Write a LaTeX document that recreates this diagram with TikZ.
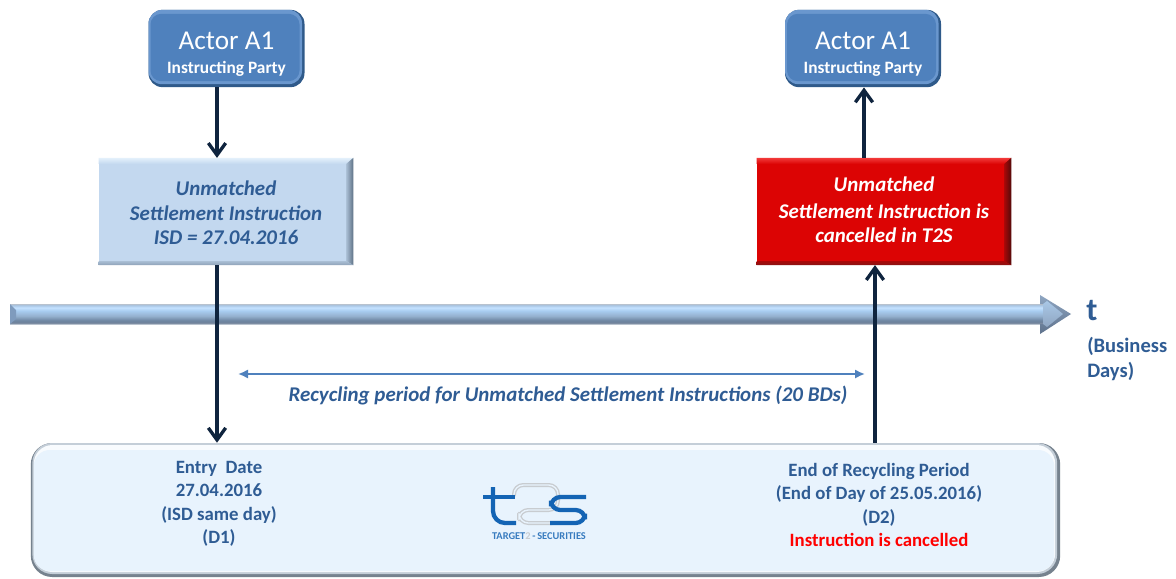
\documentclass[tikz,border=0pt]{standalone}
\usepackage{fontspec}
\setmainfont{Carlito}
\usetikzlibrary{calc,arrows.meta}
\definecolor{actorblue}{HTML}{4F81BD}
\definecolor{actortop}{HTML}{6A97CE}
\definecolor{actordark}{HTML}{2F5A8A}
\definecolor{lightbox}{HTML}{C3D8EF}
\definecolor{redbox}{HTML}{DC0404}
\definecolor{textblue}{HTML}{2F5C94}
\definecolor{navyline}{HTML}{0F243E}
\definecolor{arrowblue}{HTML}{4F81BD}
\definecolor{panel}{HTML}{E8F3FD}
\definecolor{panelrim}{HTML}{76828E}
\definecolor{panelsoft}{HTML}{C4CED8}
\definecolor{logoblue}{HTML}{1464B4}
\definecolor{logogray}{HTML}{C8CCD0}
\definecolor{lbTop}{HTML}{E4F0FB}
\definecolor{lbEdge}{HTML}{5F7286}
\definecolor{lbIn}{HTML}{A9BED4}
\definecolor{lbBot}{HTML}{8FA3B8}
\definecolor{rTop}{HTML}{F23A3A}
\definecolor{rEdge}{HTML}{520A0A}
\definecolor{rIn}{HTML}{A80808}
\definecolor{rBot}{HTML}{8A1414}
\definecolor{headLit}{HTML}{A9C7E6}
\definecolor{headTop}{HTML}{8FA6C2}
\definecolor{headBot}{HTML}{5E728C}
\definecolor{barEnd}{HTML}{7F9BBD}
\definecolor{barA}{HTML}{B8C2CE}
\definecolor{barB}{HTML}{70829A}
\definecolor{barC}{HTML}{6E86A2}
\definecolor{barD}{HTML}{94B0CE}
\definecolor{barE}{HTML}{A8CCF0}
\definecolor{barF}{HTML}{C4E2FF}
\definecolor{barG}{HTML}{A8C4E2}
\pgfdeclareverticalshading{barshade}{100bp}{
 color(0bp)=(barA);
 color(25bp)=(barA);
 color(28bp)=(barB);
 color(34bp)=(barC);
 color(45bp)=(barD);
 color(58bp)=(barE);
 color(66bp)=(barF);
 color(72bp)=(barG);
 color(75bp)=(barA);
 color(100bp)=(barA)}
\tikzset{
 x=0.75pt,y=-0.75pt,
 actorbox/.style={rounded corners=10.5pt,inner sep=0pt,minimum width=117pt,minimum height=58pt,
   fill=actordark,text=white,align=center,
   path picture={
    \fill[actortop,rounded corners=10pt]
     ($(path picture bounding box.south west)+(0,-3)$) rectangle ($(path picture bounding box.north east)+(-2.5,0)$);
    \fill[actorblue,rounded corners=8pt]
     ($(path picture bounding box.south west)+(2,-6)$) rectangle ($(path picture bounding box.north east)+(-5,4)$);}},
 instrbox/.style={inner sep=0pt,minimum width=190.5pt,minimum height=80pt,align=center,
   font=\fontsize{15.7}{18.4}\selectfont\bfseries\itshape},
 conn/.style={navyline,line width=2.5pt,-{Straight Barb[length=9pt,width=13pt,line width=2.5pt]}},
 recyc/.style={arrowblue,line width=1.6pt,{Latex[length=7.5pt,width=7pt]}-{Latex[length=7.5pt,width=7pt]}},
 paneltxt/.style={inner sep=0pt,align=center,text=textblue,font=\fontsize{14.1}{17.6}\selectfont\bfseries},
 panelbox/.style={rounded corners=16pt,inner sep=0pt,minimum width=772pt,minimum height=100.5pt,fill=panelrim,
  path picture={
   \fill[panelsoft,rounded corners=15pt]
    ($(path picture bounding box.south west)+(1.5,-3)$) rectangle ($(path picture bounding box.north east)+(-3,0)$);
   \fill[white!70!panel,rounded corners=14pt]
    ($(path picture bounding box.south west)+(3,-5)$) rectangle ($(path picture bounding box.north east)+(-5,2)$);
   \fill[panel,rounded corners=12pt]
    ($(path picture bounding box.south west)+(3,-6)$) rectangle ($(path picture bounding box.north east)+(-6,7)$);}},
}
\newcommand{\bevels}[6]{% node, top, inner-right, right edge, bottom
 \shade[top color=#3,bottom color=#2] (#1.north west) -- (#1.north east) -- ($(#1.north east)+(-7,6)$) -- ($(#1.north west)+(0,6)$) -- cycle;
 \shade[left color=#4,right color=#5] (#1.north east) -- (#1.south east) -- ($(#1.south east)+(-7,-4)$) -- ($(#1.north east)+(-7,6)$) -- cycle;
 \shade[top color=#4,bottom color=#6] (#1.south west) -- (#1.south east) -- ($(#1.south east)+(-7,-4)$) -- ($(#1.south west)+(0,-4)$) -- cycle;
}
\begin{document}
\begin{tikzpicture}
\useasboundingbox (0,0) rectangle (1176,578);
\fill[white] (0,0) rectangle (1176,578);

% time bar
\shade[shading=barshade] (10,304) rectangle (1043,324);
\fill[barEnd] (10,304) -- (16,310) -- (16,319) -- (10,324) -- cycle;
\shade[top color=headTop,bottom color=headBot]
  (1040,295) -- (1071,314) -- (1040,334) -- (1040,324) -- (1043,324) -- (1043,304) -- (1040,304) -- cycle;
\shade[top color=headLit,bottom color=headTop] (1043,304) -- (1047,301) -- (1063,314) -- (1047,327) -- (1043,324) -- cycle;

% nodes
\node[actorbox] (actorL) at (226.5,48.5) {\fontsize{20.4}{22}\selectfont\rule{0pt}{21pt}Actor A1\\[6pt]\fontsize{13}{14}\selectfont\bfseries Instructing Party};
\node[actorbox] (actorR) at (863,48.5) {\fontsize{20.4}{22}\selectfont\rule{0pt}{21pt}Actor A1\\[6pt]\fontsize{13}{14}\selectfont\bfseries Instructing Party};

\node[instrbox,fill=lightbox,text=textblue] (boxL) at (226,211.5) {\rule{0pt}{13pt}Unmatched\\Settlement Instruction\\ISD = 27.04.2016};
\bevels{boxL}{lightbox}{lbTop}{lbIn}{lbEdge}{lbBot}
\node[instrbox,fill=redbox,text=white] (boxR) at (884,211.5) {\smash{\raisebox{1.5pt}{Unmatched}}\rule{0pt}{10pt}\\Settlement Instruction is\\cancelled in T2S};
\bevels{boxR}{redbox}{rTop}{rIn}{rEdge}{rBot}

\node[panelbox] (panelB) at (545.5,510) {};

% connector anchors
\coordinate (xL) at (217,0);
\coordinate (xR) at (875,0);
\coordinate (xU) at (864,0);
\draw[conn] (actorL.south -| xL) -- (boxL.north -| xL);
\draw[conn] (boxL.south -| xL) -- (panelB.north -| xL);
\draw[conn] (panelB.north -| xR) -- (boxR.south -| xR);
\draw[conn] (boxR.north -| xU) -- (actorR.south -| xU);

% recycling arrow
\coordinate (recL) at (238,374);
\coordinate (recR) at (865,374);
\draw[recyc] (recL) -- (recR);
\node[inner sep=0pt,text=textblue,font=\fontsize{15.7}{18}\selectfont\bfseries\itshape] (recLabel) at (568,396) {Recycling period for Unmatched Settlement Instructions (20 BDs)};

% t label
\node[inner sep=0pt,anchor=west,text=textblue,font=\fontsize{24}{26}\selectfont\bfseries] (tLabel) at (1086,311) {t};
\node[inner sep=0pt,anchor=north west,align=left,text=textblue,font=\fontsize{15.4}{18.8}\selectfont\bfseries] (tUnit) at (1087,337) {(Business\\Days)};

% panel text
\node[paneltxt] (entry) at (219,504) {Entry\ \ Date\\27.04.2016\\(ISD same day)\\(D1)};
\node[paneltxt] (endrec) at (879,505) {End of Recycling Period\\(End of Day of 25.05.2016)\\(D2)\\\textcolor{red}{Instruction is cancelled}};

% logo
\draw[logogray,line width=3pt,line cap=round,line join=round,rounded corners=7pt]
  (514,495) -- (514,485) -- (558,485) -- (558,510) -- (519,510) -- (519,523) -- (552,523);
\draw[panel,line width=1pt,line cap=round,line join=round,rounded corners=7pt]
  (514,495) -- (514,485) -- (558,485) -- (558,510) -- (519,510) -- (519,523) -- (552,523);
\draw[logoblue,line width=3.2pt,rounded corners=9pt] (493,487) -- (493,523) -- (516,523);
\draw[logoblue,line width=3.2pt] (483,497) -- (515,497);
\draw[logoblue,line width=3.2pt,rounded corners=7pt] (586,497) -- (551,497) -- (551,510) -- (585,510) -- (585,523) -- (550,523);
\node[inner sep=0pt,text=logoblue!85!white,font=\fontsize{7.8}{9}\selectfont\bfseries] (logoText) at (539,536) {TARGET\textcolor{logogray}{2}\,-\,SECURITIES};
\end{tikzpicture}
\end{document}
